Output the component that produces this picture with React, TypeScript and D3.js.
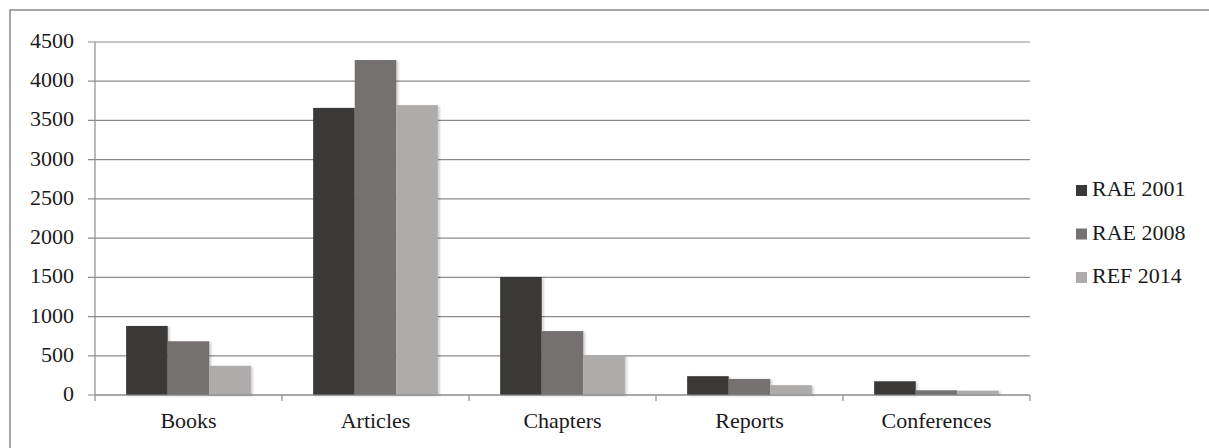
import React from "react";
import * as d3 from "d3";

const categories = ["Books", "Articles", "Chapters", "Reports", "Conferences"];
const seriesNames = ["RAE 2001", "RAE 2008", "REF 2014"];
const rae2001 = [880, 3660, 1505, 240, 175];
const rae2008 = [685, 4270, 815, 205, 60];
const ref2014 = [372, 3695, 510, 125, 55];
const seriesValues = [rae2001, rae2008, ref2014];
const colors = ["#3b3838", "#767171", "#aeabab"];
const yTicks = [0, 500, 1000, 1500, 2000, 2500, 3000, 3500, 4000, 4500];

const W = 1209;
const H = 448;
const left = 95;
const right = 1030;
const top = 42;
const bottom = 395;
const font = "Liberation Serif";

export default function App() {
  const x = d3.scaleBand<string>().domain(categories).range([left, right]).paddingInner(0).paddingOuter(0);
  const y = d3.scaleLinear().domain([0, 4500]).range([bottom, top]);
  const groupW = x.bandwidth() * 0.667;
  const xs = d3.scaleBand<number>().domain([0, 1, 2]).range([0, groupW]);
  const off = (x.bandwidth() - groupW) / 2;
  const txt = { fontFamily: font, fill: "#1a1a1a" } as React.CSSProperties;

  return (
    <svg width={W} height={H} style={{ position: "absolute", left: 0, top: 0 }}>
      <defs>
        <filter id="sh" x="-10%" y="-10%" width="130%" height="130%">
          <feDropShadow dx="2" dy="1" stdDeviation="1.2" floodColor="#000" floodOpacity="0.18" />
        </filter>
      </defs>
      <rect x={0} y={0} width={W} height={H} fill="#fff" />
      <rect x={10} y={10} width={W + 20} height={H + 20} fill="none" stroke="#8a8a8a" strokeWidth={1.5} />
      {yTicks.map((t) => (
        <g key={t}>
          <line x1={left - 7} x2={right} y1={y(t)} y2={y(t)} stroke="#8c8c8c" strokeWidth={1.2} />
          <text x={74} y={y(t) + 6} textAnchor="end" style={{ ...txt, fontSize: 22 }}>
            {t}
          </text>
        </g>
      ))}
      <line x1={left} x2={left} y1={top} y2={bottom + 6} stroke="#8c8c8c" strokeWidth={1.2} />
      {categories.map((c) => (
        <line key={"t" + c} x1={(x(c) as number) + x.bandwidth()} x2={(x(c) as number) + x.bandwidth()} y1={bottom} y2={bottom + 6} stroke="#8c8c8c" strokeWidth={1.2} />
      ))}
      {seriesValues.map((vals, s) =>
        vals.map((v, i) => (
          <rect
            key={s + "-" + i}
            x={(x(categories[i]) as number) + off + (xs(s) as number)}
            y={y(v)}
            width={xs.bandwidth()}
            height={bottom - y(v)}
            fill={colors[s]}
            filter="url(#sh)"
          />
        ))
      )}
      <line x1={left} x2={right} y1={bottom} y2={bottom} stroke="#8c8c8c" strokeWidth={1.2} />
      {categories.map((c) => (
        <text key={c} x={(x(c) as number) + x.bandwidth() / 2} y={428} textAnchor="middle" style={{ ...txt, fontSize: 22 }}>
          {c}
        </text>
      ))}
      {seriesNames.map((n, s) => (
        <g key={n} transform={`translate(1076, ${196 + s * 43.5})`}>
          <rect x={0} y={-11} width={11} height={11} fill={colors[s]} />
          <text x={16} y={0} style={{ ...txt, fontSize: 22 }}>
            {n}
          </text>
        </g>
      ))}
    </svg>
  );
}
